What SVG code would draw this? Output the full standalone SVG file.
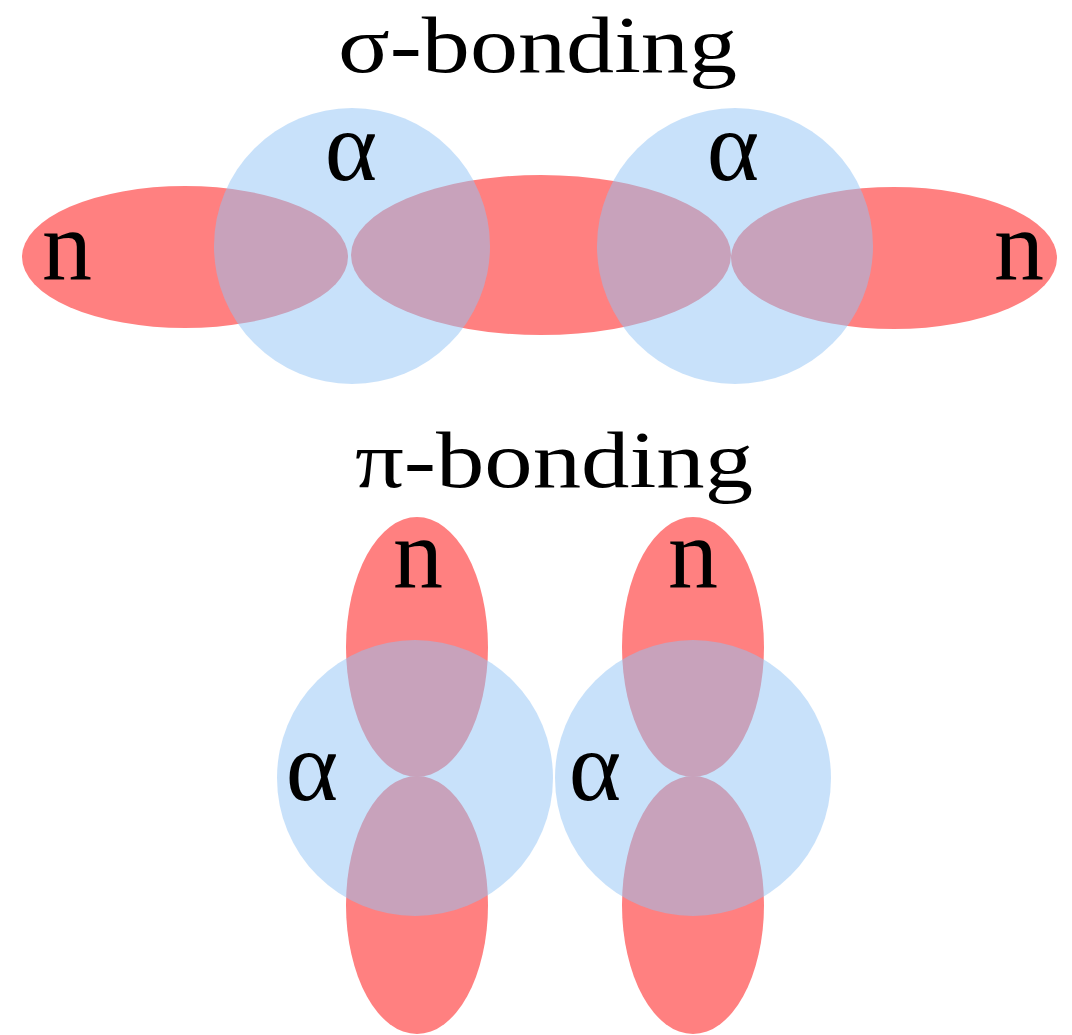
<svg xmlns="http://www.w3.org/2000/svg" width="1072" height="1035" viewBox="0 0 1072 1035">
<style>
.lobe{fill:#ff8080;}
.orb{fill:rgb(145,195,245);fill-opacity:0.5;}
.t{font-family:"Liberation Serif","Times New Roman",serif;fill:#000;}
.lbl{font-size:100px;text-anchor:middle;}
.title{font-size:80px;}
</style>
<rect width="1072" height="1035" fill="#fff"/>
<g id="sigma">
  <g id="sigma-lobe-left"><ellipse class="lobe" cx="185" cy="257" rx="163" ry="71"/></g>
  <g id="sigma-lobe-mid"><ellipse class="lobe" cx="541" cy="255" rx="190" ry="80"/></g>
  <g id="sigma-lobe-right"><ellipse class="lobe" cx="894" cy="258" rx="163" ry="71"/></g>
  <g id="sigma-metal-left"><circle class="orb" cx="352" cy="246" r="138"/></g>
  <g id="sigma-metal-right"><circle class="orb" cx="735" cy="246" r="138"/></g>
  <text class="t title" x="338" y="72" textLength="399" lengthAdjust="spacingAndGlyphs">σ-bonding</text>
  <text class="t lbl" x="67" y="279">n</text>
  <text class="t lbl" x="1019" y="279">n</text>
  <text class="t lbl" x="351" y="180">α</text>
  <text class="t lbl" x="733" y="180">α</text>
</g>
<g id="pi">
  <g id="pi-lobes-left">
    <ellipse class="lobe" cx="417" cy="647" rx="71" ry="130"/>
    <ellipse class="lobe" cx="417" cy="905" rx="71" ry="129"/>
  </g>
  <g id="pi-lobes-right">
    <ellipse class="lobe" cx="693" cy="647" rx="71" ry="130"/>
    <ellipse class="lobe" cx="693" cy="905" rx="71" ry="129"/>
  </g>
  <g id="pi-metal-left"><circle class="orb" cx="415" cy="778" r="138"/></g>
  <g id="pi-metal-right"><circle class="orb" cx="693" cy="778" r="138"/></g>
  <text class="t title" x="355" y="487" textLength="398" lengthAdjust="spacingAndGlyphs">π-bonding</text>
  <text class="t lbl" x="418" y="587">n</text>
  <text class="t lbl" x="693" y="587">n</text>
  <text class="t lbl" x="312" y="800">α</text>
  <text class="t lbl" x="595" y="800">α</text>
</g>
</svg>
